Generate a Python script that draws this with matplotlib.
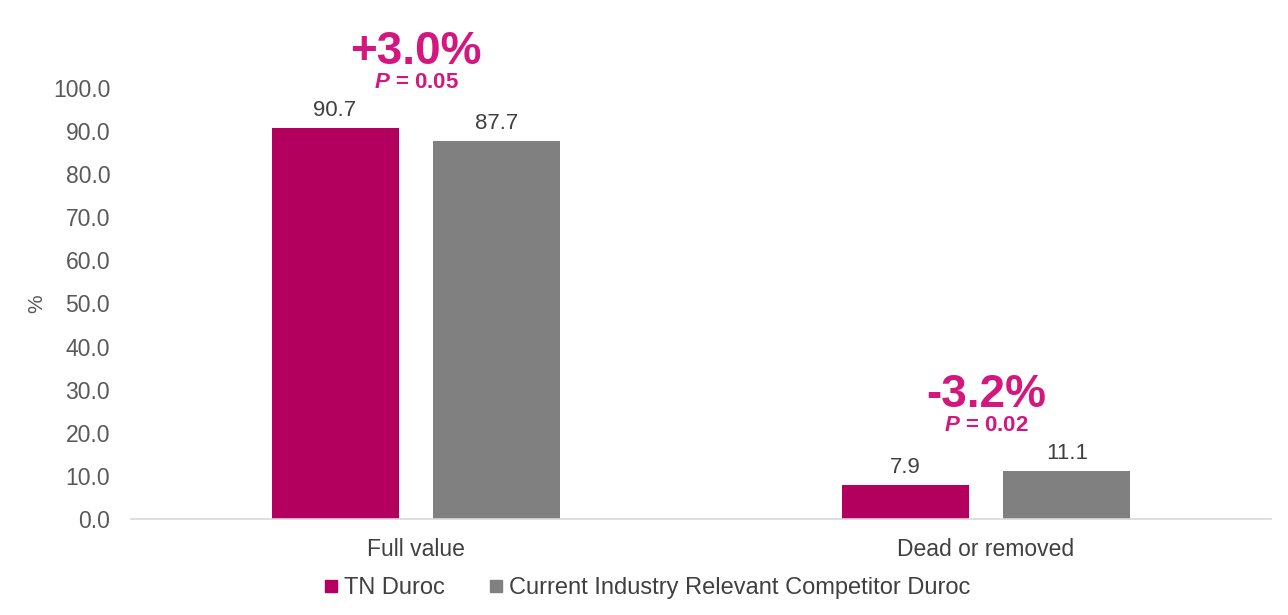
import numpy as np
import matplotlib
matplotlib.use('Agg')
import matplotlib.pyplot as plt
from matplotlib.lines import Line2D

# Data
categories = ['Full value', 'Dead or removed']
series_names = ['TN Duroc', 'Current Industry Relevant Competitor Duroc']
tn_values = [90.7, 7.9]
competitor_values = [87.7, 11.1]
diff_labels = ['+3.0%', '-3.2%']
p_labels = ['0.05', '0.02']

bar_colors = ['#B3005F', '#808080']
pink_text = '#D4177F'
text_color = '#404040'

plt.rcParams['font.family'] = ['Liberation Sans', 'DejaVu Sans']
plt.rcParams['mathtext.fontset'] = 'custom'
plt.rcParams['mathtext.it'] = 'Liberation Sans:italic:bold'
plt.rcParams['mathtext.rm'] = 'Liberation Sans:bold'

fig = plt.figure(figsize=(12.88, 6.15), dpi=100)
ax = fig.add_axes([131 / 1288, 1 - 519 / 615, 1140 / 1288, 431 / 615])

x = np.arange(len(categories))
width = 0.223
offset = 0.142

bars_tn = ax.bar(x - offset, tn_values, width, color=bar_colors[0])
bars_comp = ax.bar(x + offset, competitor_values, width, color=bar_colors[1])

for bars in (bars_tn, bars_comp):
    for b in bars:
        h = b.get_height()
        ax.annotate(f'{h:.1f}', (b.get_x() + b.get_width() / 2, h),
                    xytext=(0, 5), textcoords='offset points',
                    ha='center', va='bottom', fontsize=16, color=text_color)

# difference annotations above each group
for i in range(len(categories)):
    top = max(tn_values[i], competitor_values[i])
    ax.annotate(diff_labels[i], (x[i], top), xytext=(0, 46), textcoords='offset points',
                ha='center', va='baseline', fontsize=33, fontweight='bold',
                color=pink_text, annotation_clip=False)
    ax.annotate(r'$P$ = ' + p_labels[i], (x[i], top), xytext=(0, 29),
                textcoords='offset points', ha='center', va='baseline',
                fontsize=16, fontweight='bold', color=pink_text,
                annotation_clip=False)

ax.set_xlim(-0.5, 1.5)
ax.set_ylim(0, 100)
ax.set_yticks(np.arange(0, 101, 10))
ax.set_yticklabels([f'{v:.1f}' for v in np.arange(0, 101, 10)])
ax.set_xticks(x)
ax.set_xticklabels(categories)
ax.tick_params(axis='y', length=0, pad=15, labelsize=16.5, labelcolor='#595959')
ax.tick_params(axis='x', length=0, pad=14, labelsize=16.5, labelcolor=text_color)
ax.set_ylabel('%', fontsize=15, color='#595959', labelpad=5)

for side in ['top', 'right', 'left']:
    ax.spines[side].set_visible(False)
ax.spines['bottom'].set_color('#D9D9D9')
ax.spines['bottom'].set_linewidth(1.2)

handles = [Line2D([], [], marker='s', linestyle='none', markersize=8,
                  color=c) for c in bar_colors]
fig.legend(handles, series_names, loc='center', bbox_to_anchor=(0.503, 0.044),
           ncol=2, frameon=False, fontsize=17, handlelength=0.5,
           handletextpad=0.3, columnspacing=1.9, labelcolor=text_color,
           borderpad=0.2)

fig.savefig('out.png', dpi=100)
